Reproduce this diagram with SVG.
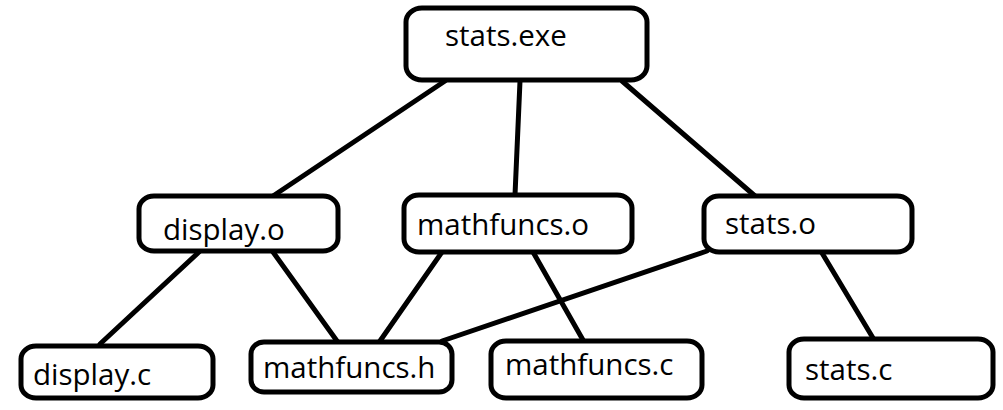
<svg xmlns="http://www.w3.org/2000/svg" width="1003" height="410" viewBox="0 0 1003 410">
<style>
.box{fill:#fff;stroke:#000;stroke-width:5}
.lbl{font-family:"Open Sans","Liberation Sans",sans-serif;font-size:29.5px;fill:#000}
.edge{stroke:#000;stroke-width:5;stroke-linecap:round;fill:none}
</style>
<rect width="1003" height="410" fill="#fff"/>
<g id="connectors">
<line class="edge" x1="445" y1="81" x2="273" y2="196"/>
<line class="edge" x1="520" y1="81" x2="515" y2="195"/>
<line class="edge" x1="622" y1="81" x2="755" y2="196"/>
<line class="edge" x1="199" y1="252" x2="100" y2="344"/>
<line class="edge" x1="273" y1="252" x2="337" y2="341"/>
<line class="edge" x1="442" y1="252" x2="380" y2="341"/>
<line class="edge" x1="533" y1="252" x2="583" y2="340"/>
<line class="edge" x1="707" y1="251" x2="442" y2="341"/>
<line class="edge" x1="822" y1="253" x2="873" y2="338"/>
</g>
<g id="stats-exe">
<rect class="box" x="406" y="8" width="241" height="72" rx="16" ry="14"/>
<text class="lbl" x="445" y="46">stats.exe</text>
</g>
<g id="display-o">
<rect class="box" x="139" y="196" width="199" height="55" rx="15" ry="13"/>
<text class="lbl" x="163" y="240">display.o</text>
</g>
<g id="mathfuncs-o">
<rect class="box" x="404" y="195" width="228" height="57" rx="15" ry="13"/>
<text class="lbl" x="417" y="235">mathfuncs.o</text>
</g>
<g id="stats-o">
<rect class="box" x="704" y="196" width="208" height="56" rx="15" ry="13"/>
<text class="lbl" x="725" y="234">stats.o</text>
</g>
<g id="display-c">
<rect class="box" x="21" y="346" width="192" height="52" rx="15" ry="13"/>
<text class="lbl" x="33" y="385">display.c</text>
</g>
<g id="mathfuncs-h">
<rect class="box" x="251" y="342" width="201" height="50" rx="13" ry="12"/>
<text class="lbl" x="263" y="378">mathfuncs.h</text>
</g>
<g id="mathfuncs-c">
<rect class="box" x="491" y="341" width="211" height="57" rx="15" ry="13"/>
<text class="lbl" x="505" y="375">mathfuncs.c</text>
</g>
<g id="stats-c">
<rect class="box" x="789" y="339" width="204" height="59" rx="15" ry="13"/>
<text class="lbl" x="805" y="380">stats.c</text>
</g>
</svg>
